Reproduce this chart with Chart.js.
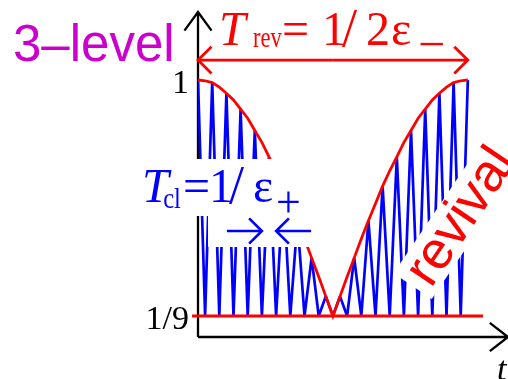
<!DOCTYPE html>
<html>
<head>
<meta charset="utf-8">
<script src="https://cdn.jsdelivr.net/npm/chart.js@4.4.0/dist/chart.umd.min.js"></script>
<style>
  html, body { margin: 0; padding: 0; background: #fff; }
  #wrap { width: 508px; height: 379px; position: relative; }
</style>
</head>
<body>
<div id="wrap"><canvas id="revivalChart"></canvas></div>
<script>
// time measured in classical periods T_cl; population oscillates between 1/9 and the envelope
const peakTimes = [0, 1, 2, 3, 4, 5, 6, 7, 8, 9, 10, 11, 12, 13, 14, 15, 16, 17, 18, 19];
const peakValues = [1.00, 0.99, 0.95, 0.89, 0.81, 0.71, 0.60, 0.47, 0.33, 0.185,
                    0.185, 0.33, 0.47, 0.60, 0.71, 0.81, 0.89, 0.95, 0.99, 1.00];
const troughTimes = [0.5, 1.5, 2.5, 3.5, 4.5, 5.5, 6.5, 7.5, 8.5, 9.5,
                     10.5, 11.5, 12.5, 13.5, 14.5, 15.5, 16.5, 17.5, 18.5];
const troughValue = 1 / 9;
// envelope between the peaks, collapsing to 1/9 at t = 9.5
const envelopeMidValues = [0.997, 0.973, 0.925, 0.856, 0.765, 0.658, 0.535, 0.402, 0.259, 0.111,
                           0.259, 0.402, 0.535, 0.658, 0.765, 0.856, 0.925, 0.973, 0.997];
const baselineTimes = [-0.42, 20.07];
const tickValues = [1 / 9, 1];
const tickLabels = ['1/9', '1'];

const SERIF = "'Liberation Serif', 'Times New Roman', serif";
const SANS = "'Liberation Sans', Arial, sans-serif";

const oscillation = [];
const envelope = [];
peakTimes.forEach((t, i) => {
    oscillation.push({ x: t, y: peakValues[i] });
    envelope.push({ x: t, y: peakValues[i] });
    if (i < troughTimes.length) {
        oscillation.push({ x: troughTimes[i], y: troughValue });
        envelope.push({ x: troughTimes[i], y: envelopeMidValues[i] });
    }
});
const baseline = baselineTimes.map(t => ({ x: t, y: troughValue }));

function arrow(c, x1, y1, x2, y2, len, ang) {
    const a = Math.atan2(y2 - y1, x2 - x1);
    c.beginPath();
    c.moveTo(x1, y1);
    c.lineTo(x2, y2);
    c.moveTo(x2 - len * Math.cos(a - ang), y2 - len * Math.sin(a - ang));
    c.lineTo(x2, y2);
    c.lineTo(x2 - len * Math.cos(a + ang), y2 - len * Math.sin(a + ang));
    c.stroke();
}

// each glyph run is placed by the left edge of its ink, not by its origin;
// sx narrows the subscripts a little
function glyphs(c, list, color) {
    c.fillStyle = color;
    c.textBaseline = 'alphabetic';
    c.textAlign = 'left';
    list.forEach(r => {
        const sx = r.sx || 1;
        c.font = r.font;
        const m = c.measureText(r.text);
        c.save();
        c.translate(r.x, r.y);
        c.scale(sx, 1);
        c.fillText(r.text, m.actualBoundingBoxLeft, 0);
        c.restore();
    });
}

const decor = {
    id: 'decor',
    beforeDatasetsDraw(chart) {
        const c = chart.ctx, a = chart.chartArea;
        c.save();
        c.strokeStyle = '#000';
        c.lineWidth = 2.3;
        // axes with arrow tips
        arrow(c, a.left, a.bottom, a.left, a.top, 23, 0.63);
        arrow(c, a.left, a.bottom, a.right, a.bottom, 23, 0.66);
        c.restore();
    },
    afterDatasetsDraw(chart) {
        const c = chart.ctx;
        const xs = chart.scales.x, ys = chart.scales.y;
        c.save();

        // white backing behind the T_cl label and its arrows
        c.fillStyle = '#fff';
        c.fillRect(130, 159, 182, 57);
        c.fillRect(208, 215, 104, 32);

        // "revival" on a white band
        c.save();
        c.translate(460, 216);
        c.rotate(-56 * Math.PI / 180);
        c.font = '53px ' + SANS;
        const w = c.measureText('revival').width;
        c.fillRect(-w / 2 - 8, -23, w + 16, 46);
        c.fillStyle = '#ff0000';
        c.textAlign = 'center';
        c.textBaseline = 'middle';
        c.fillText('revival', 0, 2);
        c.restore();

        // revival time arrow
        c.strokeStyle = '#ff0000';
        c.lineWidth = 2.8;
        const yRev = ys.getPixelForValue(1.075);
        const x0 = xs.getPixelForValue(0), x19 = xs.getPixelForValue(19);
        arrow(c, (x0 + x19) / 2, yRev, x0, yRev, 19, 0.78);
        arrow(c, (x0 + x19) / 2, yRev, x19, yRev, 19, 0.78);

        glyphs(c, [
            { text: 'T', font: 'italic 48px ' + SERIF, x: 222, y: 45 },
            { text: 'rev', font: '30px ' + SERIF, x: 253, y: 47, sx: 0.75 },
            { text: '=', font: '48px ' + SERIF, x: 284, y: 45 },
            { text: '1', font: '48px ' + SERIF, x: 326, y: 45 },
            { text: '/', font: '54px ' + SERIF, x: 342, y: 46 },
            { text: '2', font: '48px ' + SERIF, x: 368, y: 45 },
            { text: '\u03b5', font: '48px ' + SERIF, x: 392, y: 45 },
            { text: '\u2212', font: '48px ' + SERIF, x: 420, y: 60 }
        ], '#ff0000');

        // one classical period, between neighbouring troughs
        c.strokeStyle = '#0000ff';
        c.lineWidth = 2.6;
        const yA = 231;
        const xa = xs.getPixelForValue(4.5), xb = xs.getPixelForValue(5.5);
        arrow(c, xa - 35, yA, xa, yA, 18, 0.78);
        arrow(c, xb + 35, yA, xb, yA, 18, 0.78);

        glyphs(c, [
            { text: 'T', font: 'italic 48px ' + SERIF, x: 145, y: 202 },
            { text: 'cl', font: '30px ' + SERIF, x: 164, y: 208, sx: 0.82 },
            { text: '=', font: '48px ' + SERIF, x: 185, y: 202 },
            { text: '1', font: '48px ' + SERIF, x: 213, y: 202 },
            { text: '/', font: '54px ' + SERIF, x: 229, y: 203 },
            { text: '\u03b5', font: '48px ' + SERIF, x: 254, y: 202 },
            { text: '+', font: '44px ' + SERIF, x: 278, y: 217 }
        ], '#0000ff');

        glyphs(c, [{ text: '3\u2013level', font: '51px ' + SANS, x: 14, y: 61 }], '#cc00cc');
        glyphs(c, [{ text: 't', font: 'italic 34px ' + SERIF, x: 498, y: 380 }], '#000');
        c.restore();
    }
};

new Chart(document.getElementById('revivalChart').getContext('2d'), {
    type: 'line',
    data: {
        datasets: [
            {
                data: baseline,
                borderColor: '#ff0000',
                borderWidth: 2.8,
                pointRadius: 0,
                clip: false
            },
            {
                data: envelope,
                borderColor: '#ff0000',
                borderWidth: 2.8,
                pointRadius: 0,
                tension: 0
            },
            {
                data: oscillation,
                borderColor: '#0000ff',
                borderWidth: 2.7,
                borderJoinStyle: 'bevel',
                pointRadius: 0,
                tension: 0
            }
        ]
    },
    options: {
        responsive: true,
        maintainAspectRatio: false,
        animation: false,
        events: [],
        layout: { padding: { top: 12, bottom: 42, left: 0, right: 0 } },
        plugins: { legend: { display: false }, tooltip: { enabled: false } },
        scales: {
            x: {
                type: 'linear',
                display: false,
                min: 0,
                max: 21.83
            },
            y: {
                type: 'linear',
                min: 0.032,
                max: 1.256,
                grid: { display: false, drawTicks: false },
                border: { display: false },
                afterFit(scale) {
                    scale.width = 198;
                    scale.paddingTop = 0;
                    scale.paddingBottom = 0;
                },
                afterBuildTicks(scale) {
                    scale.ticks = tickValues.map(v => ({ value: v }));
                },
                ticks: {
                    color: '#000',
                    padding: 9,
                    labelOffset: 4,
                    font: { family: SERIF, size: 34 },
                    callback(value, index) { return tickLabels[index]; }
                }
            }
        }
    },
    plugins: [decor]
});
</script>
</body>
</html>
